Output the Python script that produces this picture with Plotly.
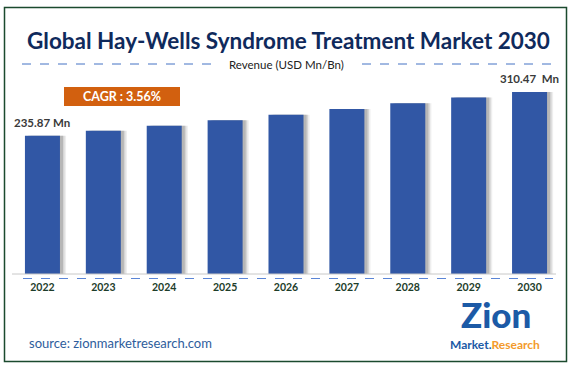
import plotly.graph_objects as go

years = ["2022", "2023", "2024", "2025", "2026", "2027", "2028", "2029", "2030"]
revenue = [235.87, 244.3, 253.0, 262.3, 271.6, 281.3, 291.3, 301.0, 310.47]
first_label = "235.87 Mn"
last_label = "310.47  Mn"
title_text = "Global Hay-Wells Syndrome Treatment Market 2030"
subtitle_text = "Revenue (USD Mn/Bn)"
cagr_text = "CAGR : 3.56%"
source_text = "source: zionmarketresearch.com"

W, H = 577, 367
def px(x):
    return x / W
def py(y):
    return 1 - y / H

BAR = "#3157a5"
FONT = "Lato, 'Open Sans', sans-serif"

fig = go.Figure()
# soft shadow to the right of each bar
for off, op in [(0.10, 0.10), (0.075, 0.16), (0.05, 0.25)]:
    fig.add_trace(go.Bar(x=years, y=revenue, marker=dict(color=f"rgba(90,90,90,{op})", line=dict(width=0)),
                         width=0.575, offset=-0.2875 + off, hoverinfo="skip", showlegend=False))
fig.add_trace(go.Bar(x=years, y=revenue, marker=dict(color=BAR, line=dict(width=0)),
                     width=0.575, offset=-0.2875, showlegend=False))

ann = []
ann.append(dict(text=f"<b>{title_text}</b>", x=px(288), y=py(40), xref="paper", yref="paper",
                showarrow=False, font=dict(family=FONT, size=22.5, color="#0f2a5c"), xanchor="center", yanchor="middle"))
ann.append(dict(text=subtitle_text, x=px(286.5), y=py(64), xref="paper", yref="paper",
                showarrow=False, font=dict(family=FONT, size=11.5, color="#222222"), xanchor="center", yanchor="middle"))
ann.append(dict(text=f"<b>{cagr_text}</b>", x=px(122), y=py(96.5), xref="paper", yref="paper",
                showarrow=False, font=dict(family=FONT, size=12.5, color="white"), xanchor="center", yanchor="middle"))
ann.append(dict(text=f"<b>{first_label}</b>", x=0, y=revenue[0], xref="x", yref="y", yshift=5,
                showarrow=False, font=dict(family=FONT, size=11.5, color="#3a3a3a"), xanchor="center", yanchor="bottom"))
ann.append(dict(text=f"<b>{last_label}</b>", x=len(years) - 1, y=revenue[-1], xref="x", yref="y", yshift=5,
                showarrow=False, font=dict(family=FONT, size=11.5, color="#3a3a3a"), xanchor="center", yanchor="bottom"))
ann.append(dict(text=source_text, x=px(27), y=py(343), xref="paper", yref="paper",
                showarrow=False, font=dict(family=FONT, size=13, color="#2e5d9c"), xanchor="left", yanchor="middle"))
# logo
ann.append(dict(text="Zion", x=px(496), y=py(336), xref="paper", yref="paper", borderpad=0,
                showarrow=False, font=dict(family="Lato", size=35, color="#1c5aa6", weight=900),
                xanchor="center", yanchor="bottom"))
ann.append(dict(text="<b><span style='color:#1c5aa6'>Market.</span><span style='color:#f39a2b'>Research</span></b>",
                x=px(495), y=py(336), xref="paper", yref="paper", borderpad=0,
                showarrow=False, font=dict(family=FONT, size=12), xanchor="center", yanchor="top"))

shapes = []
shapes.append(dict(type="rect", xref="paper", yref="paper", x0=px(64), x1=px(180), y0=py(87), y1=py(106),
                   fillcolor="#d2600f", line=dict(width=0), layer="below"))
shapes.append(dict(type="line", xref="paper", yref="paper", x0=px(22), x1=px(216), y0=py(64), y1=py(64),
                   line=dict(color="#4472c4", width=1, dash="dash")))
shapes.append(dict(type="line", xref="paper", yref="paper", x0=px(362), x1=px(558), y0=py(64), y1=py(64),
                   line=dict(color="#4472c4", width=1, dash="dash")))
shapes.append(dict(type="line", xref="paper", yref="paper", x0=px(12), x1=px(556), y0=py(274), y1=py(274),
                   line=dict(color="#c8c8c8", width=1)))
shapes.append(dict(type="line", xref="paper", yref="paper", x0=px(23), x1=px(553), y0=py(278.5), y1=py(278.5),
                   line=dict(color="#5b85d6", width=1, dash="dash")))
shapes.append(dict(type="rect", xref="paper", yref="paper", x0=px(4.5), x1=px(566.5), y0=py(7.5), y1=py(361.5),
                   line=dict(color="#1b4a2e", width=1.5), fillcolor="rgba(0,0,0,0)"))

fig.update_layout(
    width=W, height=H, margin=dict(l=0, r=0, t=0, b=0),
    paper_bgcolor="white", plot_bgcolor="white",
    barmode="overlay",
    xaxis=dict(domain=[px(12), px(560)], type="category", categoryorder="array", categoryarray=years,
               range=[-0.5, len(years) - 0.5], autorange=False,
               showgrid=False, showline=False, zeroline=False,
               tickfont=dict(family=FONT, size=10.5, color="#1d3d2a", weight="bold"),
               ticks="", ticklabelstandoff=5, fixedrange=True),
    yaxis=dict(domain=[py(274), py(70)], range=[0, 348], autorange=False, showgrid=False, showline=False,
               zeroline=False, showticklabels=False, ticks="", fixedrange=True),
    annotations=ann, shapes=shapes,
)

fig.write_html("out.html", config={"displayModeBar": False},
               post_script="document.body.style.margin='0';document.body.style.padding='0';")
